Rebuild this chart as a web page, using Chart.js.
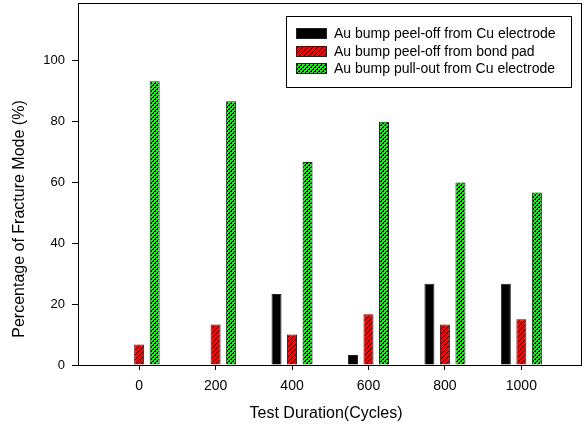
<!DOCTYPE html>
<html lang="en">
<head>
    <meta charset="UTF-8">
    <title>Fracture Mode vs Test Duration</title>
    <script src="https://cdn.jsdelivr.net/npm/chart.js"></script>
    <style>
        body { margin: 0; padding: 0; background: #fff; }
        .chart-container { width: 585px; height: 430px; }
    </style>
</head>
<body>
    <div class="chart-container">
        <canvas id="fractureChart"></canvas>
    </div>

    <script>
        // Data
        const cycles = [0, 200, 400, 600, 800, 1000];
        const peelCu = [0, 0, 23.3, 3.3, 26.7, 26.7];
        const peelPad = [6.7, 13.3, 10, 16.7, 13.3, 15];
        const pullOut = [93.3, 86.7, 66.7, 80, 60, 56.7];
        const seriesLabels = [
            'Au bump peel-off from Cu electrode',
            'Au bump peel-off from bond pad',
            'Au bump pull-out from Cu electrode'
        ];
        const yTicks = [0, 20, 40, 60, 80, 100];

        Chart.defaults.font.family = "'Liberation Sans', Arial, sans-serif";
        Chart.defaults.color = '#000';

        // red with black diagonal hatch
        function hatchPattern() {
            const c = document.createElement('canvas');
            c.width = 5; c.height = 5;
            const g = c.getContext('2d');
            g.fillStyle = '#ff0000';
            g.fillRect(0, 0, 5, 5);
            g.fillStyle = '#000';
            for (let i = 0; i < 5; i++) {
                g.fillRect(i, 4 - i, 1, 1);
            }
            return g.createPattern(c, 'repeat');
        }

        // green checker with black
        function checkPattern() {
            const c = document.createElement('canvas');
            c.width = 4; c.height = 4;
            const g = c.getContext('2d');
            g.fillStyle = '#00ff00';
            g.fillRect(0, 0, 4, 4);
            g.fillStyle = '#000';
            g.fillRect(0, 0, 2, 2);
            g.fillRect(2, 2, 2, 2);
            g.fillStyle = '#00ff00';
            g.fillRect(0, 0, 1, 1);
            g.fillRect(2, 2, 1, 1);
            return g.createPattern(c, 'repeat');
        }

        const fills = ['#000000', hatchPattern(), checkPattern()];

        const toPoints = arr => arr.map((v, i) => ({ x: cycles[i], y: v }));

        // box around the plot, titles and the inner legend
        const framePlugin = {
            id: 'frame',
            afterDatasetsDraw(chart) {
                const { ctx, chartArea: a } = chart;
                ctx.save();
                ctx.strokeStyle = '#000';
                ctx.lineWidth = 1;
                ctx.strokeRect(a.left + 0.5, a.top + 0.5, a.right - a.left, a.bottom - a.top);
                ctx.restore();
            },
            afterDraw(chart) {
                const ctx = chart.ctx;
                ctx.save();
                ctx.fillStyle = '#000';
                ctx.font = "16px 'Liberation Sans', Arial, sans-serif";
                ctx.textAlign = 'center';
                ctx.textBaseline = 'middle';
                ctx.fillText('Test Duration(Cycles)', 326, 414);
                ctx.translate(20, 219);
                ctx.rotate(-Math.PI / 2);
                ctx.fillText('Percentage of Fracture Mode (%)', 0, 0);
                ctx.restore();

                // legend
                ctx.save();
                ctx.fillStyle = '#fff';
                ctx.fillRect(286, 16, 285, 71);
                ctx.strokeStyle = '#000';
                ctx.lineWidth = 1;
                ctx.strokeRect(286.5, 16.5, 285, 71);
                const rows = [28, 46, 63];
                ctx.font = "14px 'Liberation Sans', Arial, sans-serif";
                ctx.textAlign = 'left';
                ctx.textBaseline = 'middle';
                chart.data.datasets.forEach((ds, i) => {
                    ctx.fillStyle = ds.backgroundColor;
                    ctx.fillRect(296, rows[i], 31, 11);
                    ctx.strokeStyle = '#222';
                    ctx.strokeRect(296.5, rows[i] + 0.5, 30, 10);
                    ctx.fillStyle = '#000';
                    ctx.fillText(ds.label, 334, rows[i] + 6);
                });
                ctx.restore();
            }
        };

        const ctx = document.getElementById('fractureChart').getContext('2d');
        new Chart(ctx, {
            type: 'bar',
            data: {
                datasets: [
                    { label: seriesLabels[0], data: toPoints(peelCu), backgroundColor: fills[0] },
                    { label: seriesLabels[1], data: toPoints(peelPad), backgroundColor: fills[1] },
                    { label: seriesLabels[2], data: toPoints(pullOut), backgroundColor: fills[2] }
                ]
            },
            options: {
                responsive: true,
                maintainAspectRatio: false,
                animation: false,
                layout: { padding: { top: 3, right: 4, left: 0, bottom: 0 } },
                datasets: {
                    bar: {
                        borderColor: '#222',
                        borderWidth: 1,
                        categoryPercentage: 0.609,
                        barPercentage: 0.645
                    }
                },
                plugins: {
                    legend: { display: false },
                    tooltip: { enabled: false }
                },
                scales: {
                    x: {
                        type: 'linear',
                        offset: false,
                        min: -160,
                        max: 1156,
                        afterFit: s => { s.height = 65; s.paddingLeft = 0; s.paddingRight = 0; },
                        afterBuildTicks: s => { s.ticks = cycles.map(v => ({ value: v })); },
                        ticks: { font: { size: 14 }, padding: 8, color: '#000', callback: v => String(v) },
                        grid: { offset: false, drawOnChartArea: false, tickLength: 5, color: '#000' },
                        border: { color: '#000' }
                    },
                    y: {
                        min: 0,
                        max: 119,
                        afterFit: s => { s.width = 78; s.paddingTop = 0; s.paddingBottom = 0; },
                        afterBuildTicks: s => { s.ticks = yTicks.map(v => ({ value: v })); },
                        ticks: { font: { size: 13 }, padding: 7, color: '#000' },
                        grid: { drawOnChartArea: false, tickLength: 6, color: '#000' },
                        border: { color: '#000' }
                    }
                }
            },
            plugins: [framePlugin]
        });
    </script>
</body>
</html>
